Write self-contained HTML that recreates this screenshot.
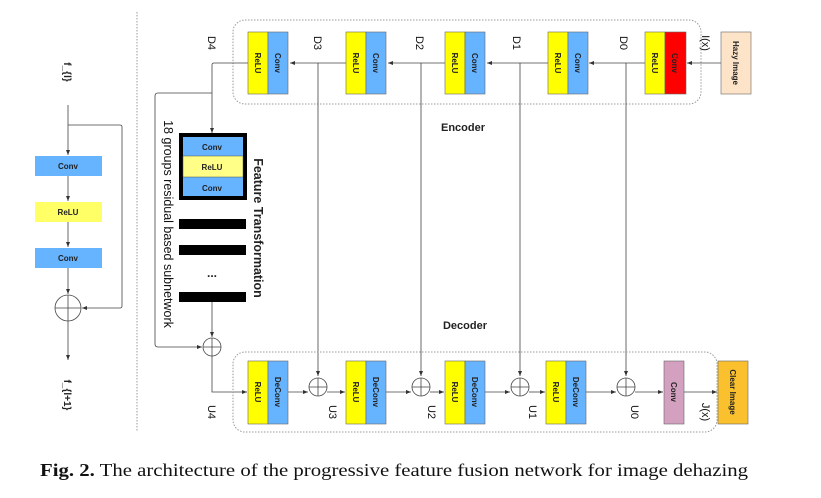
<!DOCTYPE html>
<html><head><meta charset="utf-8"><style>
html,body{margin:0;padding:0;background:#fff;}
svg{display:block;}
.b{font-family:"Liberation Sans",sans-serif;font-weight:bold;font-size:8px;fill:#222;}
.l{font-family:"Liberation Sans",sans-serif;font-size:11px;fill:#111;}
</style></head><body>
<svg width="821" height="498" viewBox="0 0 821 498" xmlns="http://www.w3.org/2000/svg">
<defs><marker id="a" markerWidth="6" markerHeight="6" refX="5" refY="3" orient="auto" markerUnits="userSpaceOnUse"><path d="M0,1 L5,3 L0,5z" fill="#333"/></marker></defs>
<line x1="137" y1="12" x2="137" y2="432" stroke="#999" stroke-dasharray="1.5,1.5"/>
<!-- left residual block -->
<text class="b" style="font-size:10px" transform="translate(64,72) rotate(90)" text-anchor="middle">f_{l}</text>
<g stroke="#444" fill="none" stroke-width="0.8">
<line x1="68" y1="105" x2="68" y2="155" marker-end="url(#a)"/>
<line x1="68" y1="176" x2="68" y2="201" marker-end="url(#a)"/>
<line x1="68" y1="222" x2="68" y2="247" marker-end="url(#a)"/>
<line x1="68" y1="268" x2="68" y2="294" marker-end="url(#a)"/>
<path d="M68,125 H120 Q122,125 122,127 V306 Q122,308 120,308 H82" marker-end="url(#a)"/>
<circle cx="68" cy="308" r="13"/>
<line x1="55" y1="308" x2="81" y2="308"/><line x1="68" y1="295" x2="68" y2="321"/>
<line x1="68" y1="321" x2="68" y2="360" marker-end="url(#a)"/>
</g>
<rect x="35" y="156" width="67" height="20" fill="#66b3ff"/><text class="b" x="68" y="169" text-anchor="middle">Conv</text>
<rect x="35" y="202" width="67" height="20" fill="#ffff66"/><text class="b" x="68" y="215" text-anchor="middle">ReLU</text>
<rect x="35" y="248" width="67" height="20" fill="#66b3ff"/><text class="b" x="68" y="261" text-anchor="middle">Conv</text>
<text class="b" style="font-size:10px" transform="translate(64,395) rotate(90)" text-anchor="middle">f_{l+1}</text>

<!-- encoder -->
<rect x="233" y="20" width="468" height="84" rx="12" fill="none" stroke="#999" stroke-dasharray="1.5,1.5"/>
<g stroke="#444" fill="none" stroke-width="0.8">
<line x1="721" y1="63" x2="687" y2="63" marker-end="url(#a)"/>
<line x1="645" y1="63" x2="589" y2="63" marker-end="url(#a)"/>
<line x1="548" y1="63" x2="487" y2="63" marker-end="url(#a)"/>
<line x1="445" y1="63" x2="388" y2="63" marker-end="url(#a)"/>
<line x1="346" y1="63" x2="290" y2="63" marker-end="url(#a)"/>
<path d="M248,63 H214 Q212,63 212,65 V133" marker-end="url(#a)"/>
<path d="M212,93 H158 Q155,93 155,96 V344 Q155,347 158,347 H202" marker-end="url(#a)"/>
<line x1="318" y1="63" x2="318" y2="376" marker-end="url(#a)"/>
<line x1="421" y1="63" x2="421" y2="376" marker-end="url(#a)"/>
<line x1="520" y1="63" x2="520" y2="376" marker-end="url(#a)"/>
<line x1="626" y1="63" x2="626" y2="376" marker-end="url(#a)"/>
<line x1="212" y1="301" x2="212" y2="337" marker-end="url(#a)"/>
<circle cx="212" cy="347" r="9"/><line x1="203" y1="347" x2="221" y2="347"/><line x1="212" y1="338" x2="212" y2="356"/>
<path d="M212,356 V392 H247" marker-end="url(#a)"/>
<line x1="288" y1="392" x2="308" y2="392" marker-end="url(#a)"/>
<line x1="327" y1="392" x2="345" y2="392" marker-end="url(#a)"/>
<line x1="386" y1="392" x2="411" y2="392" marker-end="url(#a)"/>
<line x1="430" y1="392" x2="444" y2="392" marker-end="url(#a)"/>
<line x1="485" y1="392" x2="510" y2="392" marker-end="url(#a)"/>
<line x1="529" y1="392" x2="545" y2="392" marker-end="url(#a)"/>
<line x1="586" y1="392" x2="616" y2="392" marker-end="url(#a)"/>
<line x1="635" y1="392" x2="663" y2="392" marker-end="url(#a)"/>
<line x1="684" y1="392" x2="717" y2="392" marker-end="url(#a)"/>
</g>
<g stroke="#444" fill="#fff" stroke-width="0.8">
<circle cx="318" cy="387" r="9"/><circle cx="421" cy="387" r="9"/><circle cx="520" cy="387" r="9"/><circle cx="626" cy="387" r="9"/>
</g>
<g stroke="#444" stroke-width="0.8">
<path d="M309,387h18M318,378v18M412,387h18M421,378v18M511,387h18M520,378v18M617,387h18M626,378v18"/>
</g>
<g stroke="#666" stroke-width="0.6">
<rect x="248" y="32" width="20" height="62" fill="#ffff00"/><rect x="268" y="32" width="20" height="62" fill="#66b3ff"/>
<rect x="346" y="32" width="20" height="62" fill="#ffff00"/><rect x="366" y="32" width="20" height="62" fill="#66b3ff"/>
<rect x="445" y="32" width="20" height="62" fill="#ffff00"/><rect x="465" y="32" width="20" height="62" fill="#66b3ff"/>
<rect x="548" y="32" width="20" height="62" fill="#ffff00"/><rect x="568" y="32" width="20" height="62" fill="#66b3ff"/>
<rect x="645" y="32" width="20" height="62" fill="#ffff00"/><rect x="665" y="32" width="21" height="62" fill="#ff0000"/>
<rect x="721" y="32" width="30" height="62" fill="#fde3c8"/>
</g>
<g class="b">
<text transform="translate(255,63) rotate(90)" text-anchor="middle">ReLU</text><text transform="translate(275,63) rotate(90)" text-anchor="middle">Conv</text>
<text transform="translate(353,63) rotate(90)" text-anchor="middle">ReLU</text><text transform="translate(373,63) rotate(90)" text-anchor="middle">Conv</text>
<text transform="translate(452,63) rotate(90)" text-anchor="middle">ReLU</text><text transform="translate(472,63) rotate(90)" text-anchor="middle">Conv</text>
<text transform="translate(555,63) rotate(90)" text-anchor="middle">ReLU</text><text transform="translate(575,63) rotate(90)" text-anchor="middle">Conv</text>
<text transform="translate(652,63) rotate(90)" text-anchor="middle">ReLU</text><text transform="translate(672,63) rotate(90)" text-anchor="middle">Conv</text>
<text transform="translate(733,63) rotate(90)" text-anchor="middle">Hazy Image</text>
</g>
<g class="l">
<text transform="translate(208,43) rotate(90)" text-anchor="middle">D4</text>
<text transform="translate(314,43) rotate(90)" text-anchor="middle">D3</text>
<text transform="translate(416,43) rotate(90)" text-anchor="middle">D2</text>
<text transform="translate(513,43) rotate(90)" text-anchor="middle">D1</text>
<text transform="translate(620,43) rotate(90)" text-anchor="middle">D0</text>
<text transform="translate(702,43) rotate(90)" text-anchor="middle">I(x)</text>
</g>
<text class="b" style="font-size:11px" x="463" y="131" text-anchor="middle">Encoder</text>
<text class="b" style="font-size:11px" x="465" y="329" text-anchor="middle">Decoder</text>
<!-- feature transformation -->
<rect x="181" y="135" width="64" height="63" fill="#66b3ff" stroke="#000" stroke-width="4"/>
<rect x="183" y="156" width="60" height="21" fill="#ffff88" stroke="#555" stroke-width="0.5"/>
<text class="b" x="212" y="150" text-anchor="middle">Conv</text>
<text class="b" x="212" y="170" text-anchor="middle">ReLU</text>
<text class="b" x="212" y="191" text-anchor="middle">Conv</text>
<rect x="179" y="219" width="67" height="10" fill="#000"/>
<rect x="179" y="245" width="67" height="10" fill="#000"/>
<text class="b" style="font-size:12px" x="212" y="277" text-anchor="middle">...</text>
<rect x="179" y="292" width="67" height="10" fill="#000"/>
<text class="b" style="font-size:12.5px" transform="translate(254,228) rotate(90)" text-anchor="middle">Feature Transformation</text>
<text class="l" style="font-size:12.5px" transform="translate(164,224) rotate(90)" text-anchor="middle">18 groups residual based subnetwork</text>
<!-- decoder -->
<rect x="233" y="352" width="484" height="80" rx="12" fill="none" stroke="#999" stroke-dasharray="1.5,1.5"/>
<g stroke="#666" stroke-width="0.6">
<rect x="248" y="361" width="20" height="63" fill="#ffff00"/><rect x="268" y="361" width="20" height="63" fill="#66b3ff"/>
<rect x="346" y="361" width="20" height="63" fill="#ffff00"/><rect x="366" y="361" width="20" height="63" fill="#66b3ff"/>
<rect x="445" y="361" width="20" height="63" fill="#ffff00"/><rect x="465" y="361" width="20" height="63" fill="#66b3ff"/>
<rect x="546" y="361" width="20" height="63" fill="#ffff00"/><rect x="566" y="361" width="20" height="63" fill="#66b3ff"/>
<rect x="664" y="361" width="20" height="63" fill="#d4a0c0"/>
<rect x="718" y="361" width="30" height="63" fill="#fbc02d"/>
</g>
<g class="b">
<text transform="translate(255,392) rotate(90)" text-anchor="middle">ReLU</text><text transform="translate(275,392) rotate(90)" text-anchor="middle">DeConv</text>
<text transform="translate(353,392) rotate(90)" text-anchor="middle">ReLU</text><text transform="translate(373,392) rotate(90)" text-anchor="middle">DeConv</text>
<text transform="translate(452,392) rotate(90)" text-anchor="middle">ReLU</text><text transform="translate(472,392) rotate(90)" text-anchor="middle">DeConv</text>
<text transform="translate(553,392) rotate(90)" text-anchor="middle">ReLU</text><text transform="translate(573,392) rotate(90)" text-anchor="middle">DeConv</text>
<text transform="translate(671,392) rotate(90)" text-anchor="middle">Conv</text>
<text transform="translate(730,392) rotate(90)" text-anchor="middle">Clear Image</text>
</g>
<g class="l">
<text transform="translate(208,412) rotate(90)" text-anchor="middle">U4</text>
<text transform="translate(329,412) rotate(90)" text-anchor="middle">U3</text>
<text transform="translate(428,412) rotate(90)" text-anchor="middle">U2</text>
<text transform="translate(529,412) rotate(90)" text-anchor="middle">U1</text>
<text transform="translate(631,412) rotate(90)" text-anchor="middle">U0</text>
<text transform="translate(702,412) rotate(90)" text-anchor="middle">J(x)</text>
</g>
<text x="40" y="476" textLength="708" lengthAdjust="spacingAndGlyphs" font-family="Liberation Serif,serif" font-size="18" fill="#111"><tspan font-weight="bold">Fig. 2.</tspan> The architecture of the progressive feature fusion network for image dehazing</text>
</svg>
</body></html>
